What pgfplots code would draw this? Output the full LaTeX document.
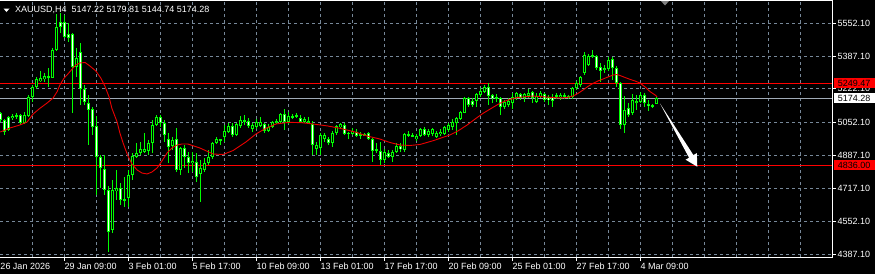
\documentclass[border=0pt]{standalone}
\usepackage{fontspec}
\setmainfont{Liberation Sans}
\usepackage{pgfplots}
\usepackage{pgfplotstable}
\pgfplotsset{compat=1.18}
\pgfdeclarelayer{bg}
\pgfsetlayers{bg,main}
\definecolor{gridc}{RGB}{119,136,153}
\definecolor{bidc}{RGB}{160,170,182}
\definecolor{cndl}{RGB}{0,255,0}
\definecolor{mared}{RGB}{235,0,0}

\pgfplotstableread{
i o h l c
0 5099.7 5104.8 5054.4 5064.4
1 5064.4 5069.5 4988.8 5005.4
2 5078.1 5084.6 5009.0 5014.0
3 5073.0 5094.7 5064.4 5084.6
4 5081.1 5099.7 5069.5 5089.7
5 5089.7 5094.7 5039.2 5049.3
6 5049.3 5104.8 5044.3 5089.7
7 5084.6 5190.5 5081.1 5178.9
8 5178.9 5240.9 5156.7 5229.3
9 5229.3 5282.8 5222.3 5269.7
10 5262.6 5313.1 5257.6 5274.7
11 5269.7 5299.9 5257.6 5286.3
12 5277.8 5325.2 5232.4 5284.8
13 5277.8 5427.5 5276.3 5417.5
14 5417.5 5599.0 5412.4 5535.0
15 5557.1 5604.0 5501.7 5531.9
16 5557.1 5594.0 5478.0 5481.5
17 5498.1 5552.1 5459.3 5476.5
18 5498.1 5501.7 5098.2 5333.2
19 5333.2 5426.0 5282.8 5377.1
20 5407.4 5451.2 5140.1 5220.8
21 5220.8 5240.9 5140.1 5156.7
22 5151.7 5190.5 4938.4 5114.9
23 5118.4 5131.5 4988.8 5030.7
24 5034.2 5084.6 4686.2 4879.4
25 4877.9 4888.0 4721.5 4822.4
26 4815.8 4888.0 4686.2 4711.4
27 4711.4 4731.6 4400.3 4501.1
28 4509.7 4761.9 4494.6 4711.4
29 4706.4 4812.3 4661.0 4720.0
30 4720.0 4746.7 4635.8 4661.0
31 4661.0 4778.5 4627.2 4666.0
32 4669.6 4812.3 4627.2 4787.1
33 4787.1 4898.0 4761.9 4882.9
34 4879.4 4950.0 4872.8 4899.5
35 4899.5 4955.0 4888.0 4916.7
36 4904.6 4998.9 4898.0 4916.7
37 4909.6 4963.6 4888.0 4950.0
38 4946.9 5064.4 4898.0 5039.2
39 5039.2 5089.7 5034.2 5078.1
40 5078.1 5089.7 5030.7 5047.8
41 5050.8 5064.4 4955.0 4988.8
42 4967.1 4998.9 4847.6 4926.8
43 4933.3 4980.2 4913.2 4963.6
44 4967.1 5024.1 4803.7 4812.3
45 4812.3 4929.8 4787.1 4921.7
46 4921.7 4938.4 4822.4 4876.3
47 4879.4 4904.6 4795.6 4846.1
48 4846.1 4904.6 4803.7 4859.2
49 4854.1 4898.0 4753.3 4775.5
50 4792.1 4862.7 4652.4 4820.9
51 4812.3 4871.3 4803.7 4846.1
52 4846.1 4913.2 4837.5 4879.4
53 4879.4 4955.0 4866.2 4946.9
54 4950.0 4977.2 4941.9 4967.1
55 4960.0 4971.1 4938.4 4967.1
56 4980.2 5039.2 4955.0 5009.0
57 5005.4 5047.8 4997.4 5034.2
58 5034.2 5047.8 4980.2 4988.8
59 4988.8 5047.8 4983.8 5044.3
60 5034.2 5084.6 5022.6 5064.4
61 5054.4 5089.7 5039.2 5064.4
62 5060.9 5073.0 5022.6 5034.2
63 5017.5 5047.8 5005.4 5039.2
64 5027.6 5068.0 5017.5 5055.9
65 5034.2 5081.1 5027.6 5055.9
66 5044.3 5050.8 4997.4 5010.5
67 5010.5 5044.3 5005.4 5027.6
68 5027.6 5060.9 5022.6 5055.9
69 5050.8 5068.0 5044.3 5060.9
70 5055.9 5101.3 5047.8 5094.7
71 5094.7 5118.4 5014.0 5055.9
72 5055.9 5106.3 5044.3 5084.6
73 5078.1 5094.7 5068.0 5084.6
74 5081.1 5098.2 5073.0 5089.7
75 5073.0 5089.7 5050.8 5055.9
76 5055.9 5081.1 5050.8 5068.0
77 5050.8 5081.1 5044.3 5060.9
78 5044.3 5060.9 4888.0 4938.4
79 4916.7 4955.0 4888.0 4938.4
80 4921.7 4997.4 4888.0 4988.8
81 4967.1 5000.4 4955.0 4988.8
82 4967.1 4980.2 4938.4 4946.9
83 4950.0 5010.5 4929.8 5000.4
84 5000.4 5039.2 4988.8 5034.2
85 5027.6 5050.8 5022.6 5044.3
86 5039.2 5050.8 4988.8 4993.8
87 4993.8 5005.4 4967.1 5000.4
88 4993.8 5022.6 4988.8 5010.5
89 5005.4 5017.5 4977.2 4983.8
90 4993.8 5005.4 4967.1 4988.8
91 4993.8 5000.4 4983.8 4988.8
92 4997.4 5005.4 4963.6 4967.1
93 4967.1 4972.2 4854.1 4909.6
94 4916.7 4950.0 4899.5 4909.6
95 4909.6 4955.0 4837.5 4862.7
96 4862.7 4916.7 4846.1 4904.6
97 4899.5 4913.2 4871.3 4879.4
98 4879.4 4913.2 4854.1 4904.6
99 4904.6 4946.9 4899.5 4933.3
100 4933.3 4946.9 4904.6 4916.7
101 4913.2 4997.4 4904.6 4993.8
102 4983.8 5010.5 4977.2 4993.8
103 4988.8 5000.4 4977.2 4980.2
104 4967.1 4993.8 4960.0 4983.8
105 4983.8 5022.6 4977.2 5017.5
106 5017.5 5027.6 4983.8 4988.8
107 4988.8 5017.5 4977.2 5010.5
108 4993.8 5022.6 4983.8 5017.5
109 4980.2 5010.5 4972.2 5000.4
110 4993.8 5017.5 4983.8 5005.4
111 4993.8 5034.2 4988.8 5027.6
112 5014.0 5050.8 5005.4 5039.2
113 5027.6 5068.0 5014.0 5055.9
114 5050.8 5081.1 4988.8 5073.0
115 5068.0 5111.3 5064.4 5106.3
116 5101.3 5178.9 5098.2 5173.9
117 5173.9 5178.9 5131.5 5140.1
118 5161.8 5173.9 5128.5 5140.1
119 5161.8 5202.1 5131.5 5195.6
120 5190.5 5224.3 5181.9 5212.2
121 5207.2 5240.9 5199.1 5232.4
122 5229.3 5249.5 5140.1 5185.5
123 5190.5 5195.6 5148.7 5173.9
124 5178.9 5195.6 5156.7 5173.9
125 5173.9 5181.9 5089.7 5128.5
126 5128.5 5165.3 5118.4 5156.7
127 5140.1 5173.9 5131.5 5161.8
128 5148.7 5199.1 5118.4 5181.9
129 5173.9 5207.2 5165.3 5199.1
130 5195.6 5202.1 5165.3 5173.9
131 5173.9 5202.1 5156.7 5195.6
132 5185.5 5219.3 5173.9 5202.1
133 5207.2 5212.2 5148.7 5173.9
134 5156.7 5199.1 5148.7 5185.5
135 5181.9 5212.2 5173.9 5199.1
136 5195.6 5202.1 5156.7 5165.3
137 5178.9 5190.5 5140.1 5165.3
138 5181.9 5195.6 5128.5 5161.8
139 5181.9 5202.1 5168.8 5190.5
140 5178.9 5202.1 5165.3 5190.5
141 5181.9 5199.1 5168.8 5190.5
142 5173.9 5190.5 5168.8 5185.5
143 5178.9 5232.4 5168.8 5224.3
144 5224.3 5262.6 5215.7 5252.5
145 5240.9 5286.3 5232.4 5279.8
146 5299.9 5407.4 5291.4 5392.2
147 5341.8 5397.3 5336.8 5387.2
148 5382.1 5417.5 5377.1 5392.2
149 5387.2 5392.2 5316.6 5326.7
150 5330.2 5350.4 5257.6 5313.1
151 5316.6 5341.8 5301.5 5326.7
152 5320.1 5382.1 5311.5 5367.0
153 5372.1 5383.7 5266.2 5326.7
154 5326.7 5336.8 5232.4 5249.5
155 5249.5 5257.6 5017.5 5039.2
156 5039.2 5185.5 4997.4 5114.9
157 5125.0 5150.2 5079.6 5089.7
158 5101.3 5195.6 5089.7 5165.3
159 5151.7 5190.5 5114.9 5161.8
160 5156.7 5207.2 5148.7 5190.5
161 5190.5 5202.1 5131.5 5148.7
162 5145.1 5165.3 5111.3 5135.0
163 5140.1 5145.1 5123.4 5135.0
164 5147.22 5179.81 5144.74 5174.28
}\candles

\pgfplotstableread{
i m
0 5003.9
2.4 5024.1
4.9 5039.2
6.7 5054.4
8.2 5094.7
9.9 5123.4
11.7 5150.2
13.2 5175.4
14.2 5207.2
14.9 5240.9
15.9 5274.7
16.9 5296.4
17.9 5320.1
18.9 5341.8
19.9 5351.9
21.2 5354.4
22.4 5336.8
23.9 5311.5
25.2 5273.7
26.2 5232.4
27.2 5180.4
27.9 5123.4
29.2 5054.4
29.9 4998.9
30.7 4948.4
31.9 4882.9
32.9 4842.6
34.2 4812.3
35.4 4797.2
36.7 4792.1
37.9 4802.2
39.2 4822.4
40.4 4857.7
41.7 4898.0
42.9 4923.2
44.2 4938.4
45.4 4943.4
46.9 4943.4
49.9 4923.2
53.2 4893.0
55.7 4890.5
58.2 4910.6
61.4 4953.5
63.9 4993.8
66.4 5022.6
68.9 5044.3
72.2 5052.8
75.4 5050.8
78.2 5044.3
81.9 5034.2
84.9 5022.6
88.7 5003.9
91.7 4983.8
94.9 4968.6
97.4 4951.0
99.9 4938.4
102.4 4935.9
104.9 4940.9
108.2 4960.0
112.4 4988.8
114.4 5009.0
116.7 5039.2
118.7 5069.5
120.7 5098.2
122.9 5125.0
124.9 5148.7
126.9 5165.3
129.2 5177.9
133.2 5185.5
137.4 5178.9
139.9 5175.4
141.7 5177.9
143.2 5185.5
144.4 5198.1
145.7 5215.7
146.9 5233.4
148.2 5249.5
149.4 5261.1
150.7 5271.2
151.9 5281.3
153.2 5291.4
154.2 5293.9
154.9 5288.9
156.2 5278.8
157.4 5269.7
158.7 5261.1
159.9 5251.0
161.2 5230.9
162.4 5208.2
163.7 5190.5
164.2 5181.9
}\ma

\begin{document}
\begin{tikzpicture}[x=1pt,y=1pt]
\begin{axis}[
  scale only axis, width=832pt, height=256pt,
  xmin=-0.075, xmax=207.925, ymin=4373.5, ymax=5664.6,
  axis line style={draw=none},
  tick style={white, line width=0.8pt},
  tick align=outside, major tick length=4pt, minor tick length=0pt,
  xtick pos=bottom, ytick pos=right, yticklabel pos=right,
  xtick={16,32,...,160},
  xticklabels={29 Jan 09:00,3 Feb 01:00,5 Feb 17:00,10 Feb 09:00,13 Feb 01:00,17 Feb 17:00,20 Feb 09:00,25 Feb 01:00,27 Feb 17:00,4 Mar 09:00},
  extra x ticks={0}, extra x tick labels={26 Jan 2026},
  extra x tick style={grid=none, major tick style={draw=none}},
  minor xtick={8,24,40,56,72,88,104,120,136,152,168,176,184,192,200},
  ytick={4387.1,4552.1,4717.1,4887.1,5052.1,5222.1,5387.1,5552.1},
  yticklabels={4387.10,4552.10,4717.10,4887.10,5052.10,5222.10,5387.10,5552.10},
  tick label style={font=\fontsize{9}{10}\selectfont, text=white},
  xticklabel style={anchor=north west, inner sep=0pt, xshift=0pt, yshift=-2pt},
  yticklabel style={anchor=west, inner sep=0pt, xshift=1.5pt},
  grid=both,
  major grid style={gridc, dash pattern=on 3pt off 3pt, line width=0.8pt},
  minor grid style={gridc, dash pattern=on 3pt off 3pt, line width=0.8pt},
  clip=true,
]
% horizontal price lines
\addplot[red, line width=0.8pt] coordinates {(-1,5249.47) (210,5249.47)};
\addplot[red, line width=0.8pt] coordinates {(-1,4836.00) (210,4836.00)};
\addplot[bidc, line width=0.8pt] coordinates {(-1,5174.28) (210,5174.28)};
% wicks
\addplot[draw=none, mark=none, error bars/.cd, y dir=both, y explicit,
  error mark=none, error bar style={draw=cndl, line width=1pt}]
  table[x=i, y expr={(\thisrow{h}+\thisrow{l})/2}, y error expr={(\thisrow{h}-\thisrow{l})/2}] {\candles};
% bodies outline
\addplot[draw=none, mark=none, error bars/.cd, y dir=both, y explicit,
  error mark=none, error bar style={draw=cndl, line width=3pt}]
  table[x=i, y expr={(\thisrow{o}+\thisrow{c})/2}, y error expr={max(abs(\thisrow{o}-\thisrow{c})/2,2.6)}] {\candles};
% bear fill (white)
\addplot[draw=none, mark=none, restrict expr to domain={\thisrow{o}-\thisrow{c}}{0.001:100000},
  error bars/.cd, y dir=both, y explicit,
  error mark=none, error bar style={draw=white, line width=1pt}]
  table[x=i, y expr={(\thisrow{o}+\thisrow{c})/2}, y error expr={max(abs(\thisrow{o}-\thisrow{c})/2-5.04,0)}] {\candles};
% bull fill (black)
\addplot[draw=none, mark=none, restrict expr to domain={\thisrow{c}-\thisrow{o}}{0.001:100000},
  error bars/.cd, y dir=both, y explicit,
  error mark=none, error bar style={draw=black, line width=1pt}]
  table[x=i, y expr={(\thisrow{o}+\thisrow{c})/2}, y error expr={max(abs(\thisrow{o}-\thisrow{c})/2-5.04,0)}] {\candles};
% moving average
\addplot[mared, line width=0.9pt, mark=none] table[x=i, y=m] {\ma};
% arrow
\fill[white] (axis cs:164.93,5147.6) -- (axis cs:173.28,4887.4) -- (axis cs:174.13,4897.5)
  -- (axis cs:174.25,4828.9) -- (axis cs:171.33,4864.2) -- (axis cs:172.18,4874.3) -- cycle;
\coordinate (LL) at (rel axis cs:0,0);
\coordinate (r1) at (axis cs:207.925,5249.47);
\coordinate (r2) at (axis cs:207.925,5174.28);
\coordinate (r3) at (axis cs:207.925,4836.00);
\end{axis}
\pgfresetboundingbox
\begin{scope}[shift={(LL)}]
\begin{scope}[shift={(0,-17)}]
\path[use as bounding box] (0,0) rectangle (875,274);
\begin{pgfonlayer}{bg}
\fill[black] (0,0) rectangle (875,274);
\end{pgfonlayer}
% frame
\draw[white, line width=1pt] (0,273.5) -- (832.5,273.5) -- (832.5,16.5) -- (0,16.5);
% title
\fill[white] (3.5,265.5) -- (9.5,265.5) -- (6.5,262) -- cycle;
\node[anchor=base west, text=white, font=\fontsize{9}{10}\selectfont, inner sep=0pt] at (15,261.5) {XAUUSD,H4\hspace{5pt}5147.22 5179.81 5144.74 5174.28};
% chart shift marker
\fill[gray] (661,273) -- (669,273) -- (665,268.5) -- cycle;
\end{scope}
\end{scope}
% price boxes
\tikzset{pbox/.style={anchor=west, text=black, font=\fontsize{9}{10}\selectfont, text height=6.5pt, text depth=0pt, inner ysep=1.8pt, inner xsep=3.5pt, minimum width=41pt, align=left}}
\node[pbox, fill=red] at ([xshift=1.5pt]r1) {5249.47};
\node[pbox, fill=white] at ([xshift=1.5pt]r2) {5174.28};
\node[pbox, fill=red] at ([xshift=1.5pt]r3) {4836.00};
\end{tikzpicture}
\end{document}
